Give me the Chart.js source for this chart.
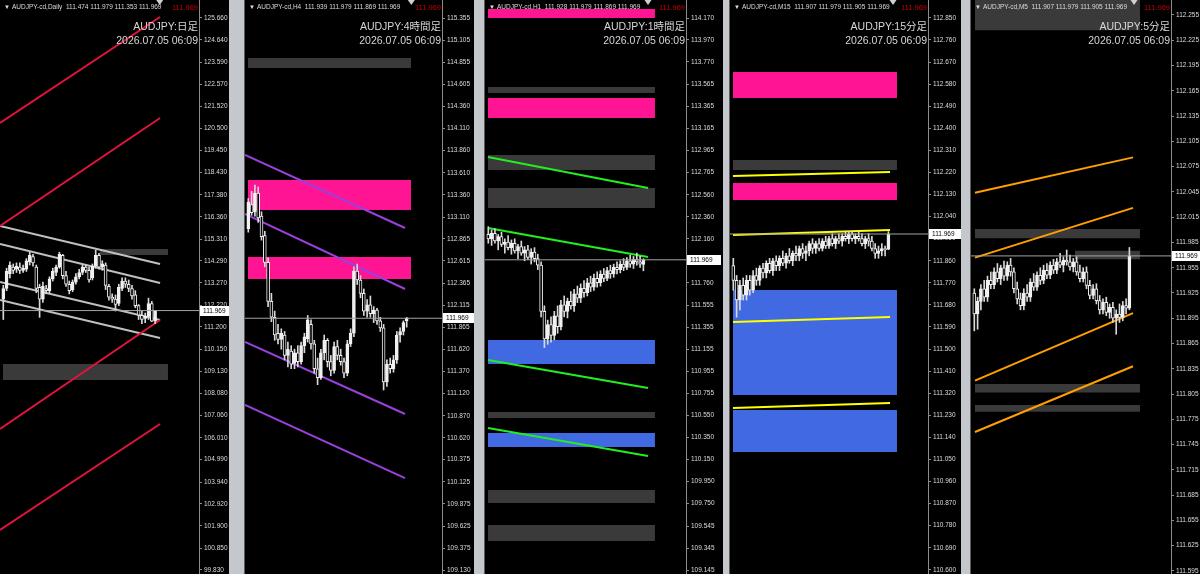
<!DOCTYPE html>
<html>
<head>
<meta charset="utf-8">
<script src="https://cdn.jsdelivr.net/npm/chart.js@4.4.1/dist/chart.umd.min.js"></script>
<style>
  html, body { margin: 0; padding: 0; width: 1200px; height: 574px; overflow: hidden; background: #c4c7cb; }
  .pane { position: absolute; top: 0; height: 574px; background: #000; box-shadow: -1px 0 0 #5c5c5c; }
  .pane canvas { display: block; }
</style>
</head>
<body>
<script>
const stamp = '2026.07.05 06:09';
const bid = 111.969;

// ---- Daily ----
const dailyTicks = [125.660, 124.640, 123.590, 122.570, 121.520, 120.500, 119.450, 118.430, 117.380, 116.360, 115.310, 114.290, 113.270,
  112.220, 111.200, 110.150, 109.130, 108.080, 107.060, 106.010, 104.990, 103.940, 102.920, 101.900, 100.850, 99.830];
// [open, high, low, close]
const dailyCandles = [
  [112.50,113.15,111.55,113.00],[113.00,113.95,112.90,113.80],[113.70,114.25,113.50,114.10],[114.00,114.15,113.70,113.85],
  [113.90,114.20,113.75,114.05],[114.00,114.20,113.70,113.85],[113.85,114.10,113.75,113.95],[113.90,114.40,113.80,114.30],
  [114.25,114.70,114.10,114.55],[114.50,114.60,114.05,114.20],[114.00,114.10,112.80,113.00],[113.05,113.20,111.65,112.50],
  [112.50,113.30,112.35,113.10],[113.00,113.15,112.75,112.90],[112.90,113.55,112.80,113.45],[113.45,113.95,113.35,113.80],
  [113.75,114.10,113.60,114.00],[114.00,114.70,113.95,114.60],[114.55,114.60,113.45,113.60],[113.60,113.80,113.10,113.20],
  [113.20,113.35,112.75,112.90],[112.95,113.40,112.85,113.30],[113.30,113.70,113.20,113.55],[113.55,113.90,113.45,113.75],
  [113.75,114.10,113.65,114.00],[114.00,114.10,113.75,113.85],[113.85,114.00,113.30,113.40],[113.50,114.15,113.40,114.05],
  [114.05,114.80,113.95,114.55],[114.55,114.65,113.90,114.00],[114.00,114.30,113.85,114.15],[114.10,114.20,112.95,113.15],
  [113.10,113.20,112.45,112.60],[112.60,112.75,112.35,112.50],[112.50,112.70,111.95,112.25],[112.30,113.20,112.20,113.05],
  [113.00,113.50,112.90,113.35],[113.35,113.50,113.05,113.20],[113.20,113.40,112.85,113.00],[113.00,113.15,112.50,112.65],
  [112.70,112.90,112.10,112.20],[112.20,112.25,111.55,111.75],[111.75,111.95,111.35,111.55],[111.60,111.85,111.40,111.70],
  [111.70,112.55,111.55,112.30],[112.30,112.40,111.45,111.47],[111.474,111.979,111.353,111.969]
];
// [x0, y0, x1, y1]
const dailyRed = [[-1,120.746,47.5,125.707],[-1,115.926,47.5,120.980],[-1,106.427,47.5,111.528],[-1,101.700,47.5,106.661]];
const dailySilver = [[-1,115.926,47.5,114.148],[-1,115.084,47.5,113.259],[-1,113.306,47.5,111.528],[-1,112.464,47.5,110.685]];
// [x0, x1, top, bottom, kind]
const dailyZones = [[29.3,49.9,114.85,114.57,'box'],[-0.1,49.9,109.47,108.72,'box']];

// ---- H4 ----
const h4Ticks = [115.355, 115.105, 114.855, 114.605, 114.360, 114.110, 113.860, 113.610, 113.360, 113.110, 112.865, 112.615, 112.365,
  112.115, 111.865, 111.620, 111.370, 111.120, 110.870, 110.620, 110.375, 110.125, 109.875, 109.625, 109.375, 109.130];
const h4Candles = [
  [112.98,113.32,112.94,113.28],[113.25,113.40,113.13,113.16],[113.17,113.47,113.12,113.38],[113.38,113.45,113.05,113.10],
  [113.12,113.17,112.85,112.89],[112.90,112.95,112.55,112.60],[112.60,112.65,112.10,112.16],[112.16,112.25,111.93,111.98],
  [111.98,112.05,111.72,111.78],[111.80,111.90,111.68,111.73],[111.73,111.85,111.62,111.80],[111.78,111.82,111.50,111.55],
  [111.55,111.70,111.42,111.62],[111.60,111.66,111.40,111.45],[111.46,111.62,111.40,111.58],[111.58,111.66,111.42,111.48],
  [111.48,111.70,111.45,111.66],[111.66,111.80,111.58,111.76],[111.74,112.00,111.70,111.95],[111.90,111.95,111.62,111.68],
  [111.68,111.72,111.35,111.40],[111.40,111.52,111.22,111.30],[111.30,111.62,111.28,111.58],[111.58,111.78,111.50,111.72],
  [111.72,111.74,111.42,111.48],[111.48,111.55,111.32,111.38],[111.38,111.70,111.35,111.65],[111.65,111.72,111.50,111.55],
  [111.55,111.62,111.44,111.48],[111.48,111.52,111.30,111.35],[111.35,111.72,111.32,111.68],[111.68,111.85,111.65,111.80],
  [111.80,112.55,111.76,112.50],[112.50,112.58,112.35,112.40],[112.40,112.45,112.20,112.25],[112.25,112.30,112.00,112.05],
  [112.05,112.18,111.98,112.12],[112.12,112.22,111.98,112.02],[112.02,112.10,111.92,112.06],[112.06,112.08,111.90,111.94],
  [111.94,111.98,111.82,111.86],[111.86,111.90,111.16,111.25],[111.25,111.50,111.20,111.45],[111.45,111.52,111.35,111.40],
  [111.40,111.55,111.36,111.50],[111.50,111.82,111.46,111.78],[111.78,111.86,111.70,111.82],[111.82,111.94,111.78,111.92],
  [111.939,111.979,111.869,111.969]
];
const h4Purple = [[-1,113.810,47.5,112.987],[-1,113.145,47.5,112.299],[-1,111.701,47.5,110.889],[-1,110.991,47.5,110.167]];
const h4Zones = [[-0.1,49.3,114.904,114.791,'box'],[-0.1,49.3,113.528,113.190,'supply'],[-0.1,49.3,112.660,112.412,'supply']];

// ---- H1 ----
const h1Ticks = [114.170, 113.970, 113.770, 113.565, 113.365, 113.165, 112.965, 112.765, 112.560, 112.360, 112.160, 111.960, 111.760,
  111.555, 111.355, 111.155, 110.955, 110.755, 110.550, 110.350, 110.150, 109.950, 109.750, 109.545, 109.345, 109.145];
const h1Candles = [
  [112.20,112.27,112.12,112.16],[112.16,112.24,112.10,112.21],[112.21,112.25,112.12,112.14],[112.14,112.20,112.06,112.18],
  [112.18,112.22,112.09,112.11],[112.11,112.16,112.03,112.13],[112.13,112.19,112.06,112.08],[112.08,112.15,112.02,112.12],
  [112.12,112.16,112.03,112.05],[112.05,112.11,111.98,112.09],[112.09,112.14,112.01,112.03],[112.03,112.09,111.96,112.06],
  [112.06,112.10,111.97,111.99],[111.99,112.07,111.93,112.04],[112.04,112.08,111.95,111.98],[111.98,112.02,111.88,111.92],
  [111.92,111.95,111.45,111.50],[111.50,111.55,111.17,111.25],[111.25,111.42,111.20,111.38],[111.38,111.45,111.22,111.28],
  [111.28,111.50,111.24,111.46],[111.46,111.55,111.30,111.36],[111.36,111.60,111.33,111.56],[111.56,111.64,111.45,111.50],
  [111.50,111.62,111.44,111.59],[111.59,111.68,111.52,111.55],[111.55,111.70,111.50,111.66],[111.66,111.73,111.58,111.62],
  [111.62,111.75,111.58,111.71],[111.71,111.78,111.63,111.67],[111.67,111.80,111.64,111.76],[111.76,111.82,111.68,111.72],
  [111.72,111.84,111.69,111.80],[111.80,111.86,111.72,111.76],[111.76,111.87,111.73,111.84],[111.84,111.89,111.77,111.80],
  [111.80,111.90,111.78,111.87],[111.87,111.92,111.80,111.84],[111.84,111.93,111.81,111.90],[111.90,111.95,111.84,111.88],
  [111.88,111.96,111.85,111.93],[111.93,111.98,111.87,111.90],[111.90,111.99,111.88,111.96],[111.96,112.01,111.90,111.93],
  [111.93,112.00,111.89,111.97],[111.97,112.03,111.92,111.95],[111.95,112.00,111.90,111.93],[111.928,111.979,111.869,111.969]
];
const h1Green = [[-0.1,112.905,48.4,112.623],[-0.1,112.258,48.4,111.994],[-0.1,111.057,48.4,110.802],[-0.1,110.438,48.4,110.183]];
const h1Zones = [
  [-0.1,50.5,114.252,114.170,'supply'],[-0.1,50.5,113.542,113.487,'box'],[-0.1,50.5,113.442,113.260,'supply'],
  [-0.1,50.5,112.923,112.786,'box'],[-0.1,50.5,112.623,112.441,'box'],[-0.1,50.5,111.239,111.020,'demand'],
  [-0.1,50.5,110.583,110.529,'box'],[-0.1,50.5,110.392,110.265,'demand'],[-0.1,50.5,109.873,109.755,'box'],
  [-0.1,50.5,109.555,109.409,'box']
];

// ---- M15 ----
const m15Ticks = [112.850, 112.760, 112.670, 112.580, 112.490, 112.400, 112.310, 112.220, 112.130, 112.040, 111.950, 111.860, 111.770,
  111.680, 111.590, 111.500, 111.410, 111.320, 111.230, 111.140, 111.050, 110.960, 110.870, 110.780, 110.690, 110.600];
const m15Candles = [
  [111.84,111.87,111.74,111.78],[111.78,111.80,111.63,111.70],[111.70,111.78,111.66,111.76],[111.76,111.79,111.70,111.72],
  [111.72,111.80,111.70,111.78],[111.78,111.80,111.72,111.74],[111.74,111.82,111.73,111.80],[111.80,111.83,111.76,111.78],
  [111.78,111.84,111.76,111.83],[111.83,111.85,111.79,111.81],[111.81,111.86,111.79,111.85],[111.85,111.87,111.81,111.82],
  [111.82,111.87,111.80,111.86],[111.86,111.88,111.82,111.84],[111.84,111.88,111.82,111.87],[111.87,111.90,111.84,111.85],
  [111.85,111.89,111.83,111.88],[111.88,111.91,111.85,111.86],[111.86,111.90,111.84,111.89],[111.89,111.92,111.86,111.88],
  [111.88,111.92,111.86,111.91],[111.91,111.93,111.87,111.89],[111.89,111.92,111.86,111.90],[111.90,111.94,111.88,111.93],
  [111.93,111.95,111.89,111.91],[111.91,111.94,111.89,111.93],[111.93,111.95,111.90,111.91],[111.91,111.95,111.90,111.94],
  [111.94,111.96,111.91,111.92],[111.92,111.96,111.91,111.95],[111.95,111.97,111.92,111.93],[111.93,111.96,111.91,111.95],
  [111.95,111.97,111.93,111.94],[111.94,111.97,111.92,111.96],[111.96,111.98,111.94,111.95],[111.95,111.98,111.93,111.97],
  [111.97,111.98,111.94,111.95],[111.95,111.97,111.93,111.96],[111.96,111.98,111.94,111.95],[111.95,111.97,111.92,111.93],
  [111.93,111.96,111.91,111.95],[111.95,111.97,111.92,111.94],[111.94,111.96,111.90,111.91],[111.91,111.93,111.87,111.89],
  [111.89,111.92,111.87,111.90],[111.90,111.93,111.88,111.91],[111.91,111.92,111.88,111.905],[111.907,111.979,111.905,111.969]
];
const m15Yellow = [[-0.1,112.206,47.5,112.222],[-0.1,111.965,47.5,111.985],[-0.1,111.610,47.5,111.631],[-0.1,111.260,47.5,111.280]];
const m15Zones = [
  [-0.1,49.6,112.629,112.523,'supply'],[-0.1,49.6,112.271,112.230,'box'],[-0.1,49.6,112.177,112.108,'supply'],
  [-0.1,49.6,111.741,111.313,'demand'],[-0.1,49.6,111.252,111.080,'demand']
];

// ---- M5 ----
const m5Ticks = [112.255, 112.225, 112.195, 112.165, 112.135, 112.105, 112.075, 112.045, 112.015, 111.985, 111.955, 111.925,
  111.895, 111.865, 111.835, 111.805, 111.775, 111.745, 111.715, 111.685, 111.655, 111.625, 111.595];
const m5Candles = [
  [111.925,111.930,111.880,111.900],[111.900,111.920,111.882,111.915],[111.915,111.935,111.905,111.930],[111.930,111.940,111.915,111.920],
  [111.920,111.945,111.915,111.940],[111.940,111.950,111.930,111.935],[111.935,111.955,111.930,111.950],[111.950,111.960,111.938,111.942],
  [111.942,111.958,111.935,111.955],[111.955,111.963,111.940,111.945],[111.945,111.962,111.940,111.958],[111.958,111.966,111.945,111.950],
  [111.950,111.955,111.925,111.930],[111.930,111.938,111.912,111.918],[111.918,111.925,111.905,111.910],[111.910,111.930,111.905,111.925],
  [111.925,111.935,111.915,111.920],[111.920,111.942,111.915,111.938],[111.938,111.948,111.928,111.932],[111.932,111.950,111.928,111.946],
  [111.946,111.955,111.935,111.940],[111.940,111.958,111.936,111.952],[111.952,111.960,111.942,111.946],[111.946,111.962,111.942,111.958],
  [111.958,111.965,111.948,111.952],[111.952,111.966,111.948,111.962],[111.962,111.972,111.955,111.958],[111.958,111.968,111.950,111.964],
  [111.964,111.976,111.958,111.962],[111.962,111.970,111.952,111.956],[111.956,111.966,111.950,111.962],[111.962,111.968,111.946,111.950],
  [111.950,111.958,111.938,111.942],[111.942,111.955,111.938,111.950],[111.950,111.956,111.930,111.934],[111.934,111.940,111.918,111.922],
  [111.922,111.935,111.918,111.930],[111.930,111.936,111.912,111.916],[111.916,111.922,111.900,111.905],[111.905,111.918,111.900,111.914],
  [111.914,111.920,111.898,111.902],[111.902,111.912,111.895,111.908],[111.908,111.914,111.890,111.895],[111.895,111.905,111.876,111.900],
  [111.900,111.912,111.890,111.896],[111.896,111.915,111.892,111.910],[111.910,111.918,111.900,111.907],[111.907,111.979,111.905,111.969]
];
const m5Orange = [[0.2,112.044,48.1,112.086],[0.2,111.967,48.1,112.026],[0.2,111.821,48.1,111.901],[0.2,111.760,48.1,111.838]];
const m5Zones = [
  [0.2,50.2,112.2728,112.237,'box'],[0.2,50.2,112.001,111.990,'box'],[30.5,50.2,111.975,111.965,'box'],
  [0.2,50.2,111.817,111.807,'box'],[0.2,50.2,111.792,111.784,'box']
];

const zoneColors = { box: '#3a3a3a', supply: '#ff1493', demand: '#4169e1' };
const barStep = 3.3; // px per bar

const panes = [
  { name: 'AUDJPY-cd,Daily', title: 'AUDJPY:日足', left: 0, plotW: 199, axisW: 30, min: 99.64, max: 126.502,
    ticks: dailyTicks, candles: dailyCandles, zones: dailyZones,
    lines: [{ pts: dailyRed, color: '#e0143c' }, { pts: dailySilver, color: '#c0c0c0' }] },
  { name: 'AUDJPY-cd,H4', title: 'AUDJPY:4時間足', left: 245, plotW: 197, axisW: 32, min: 109.085, max: 115.558,
    ticks: h4Ticks, candles: h4Candles, zones: h4Zones,
    lines: [{ pts: h4Purple, color: '#9a40dc' }] },
  { name: 'AUDJPY-cd,H1', title: 'AUDJPY:1時間足', left: 485, plotW: 201, axisW: 37, min: 109.109, max: 114.334,
    ticks: h1Ticks, candles: h1Candles, zones: h1Zones,
    lines: [{ pts: h1Green, color: '#22ee22' }] },
  { name: 'AUDJPY-cd,M15', title: 'AUDJPY:15分足', left: 730, plotW: 198, axisW: 33, min: 110.583, max: 112.923,
    ticks: m15Ticks, candles: m15Candles, zones: m15Zones,
    lines: [{ pts: m15Yellow, color: '#ffff00' }] },
  { name: 'AUDJPY-cd,M5', title: 'AUDJPY:5分足', left: 971, plotW: 200, axisW: 29, min: 111.5914, max: 112.2728,
    ticks: m5Ticks, candles: m5Candles, zones: m5Zones,
    lines: [{ pts: m5Orange, color: '#ffa000' }] }
];

const small = '"Liberation Sans", Arial, sans-serif';
const jp = '"Liberation Sans", "Noto Sans CJK JP", sans-serif';

// header texts, bid box and the shift marker
function decor(p) {
  return {
    id: 'decor',
    afterDraw(chart) {
      const { ctx, chartArea: a, scales: { x, y } } = chart;
      const last = p.candles[p.candles.length - 1];
      ctx.save();
      ctx.textBaseline = 'middle';

      const py = Math.round(y.getPixelForValue(bid));
      ctx.fillStyle = '#fff';
      ctx.fillRect(a.right + 1, py - 5, 34, 10);
      ctx.fillStyle = '#000';
      ctx.font = '6.5px ' + small;
      ctx.textAlign = 'left';
      ctx.fillText(bid.toFixed(3), a.right + 4, py + 0.5);

      ctx.fillStyle = '#dcdcdc';
      ctx.font = '6px ' + small;
      ctx.fillText('▼', a.left + 4, 7);
      ctx.font = '6.5px ' + small;
      ctx.fillText(p.name + '  ' + last.map(v => v.toFixed(3)).join(' '), a.left + 12, 7.5);

      ctx.fillStyle = '#c40000';
      ctx.font = '7.5px ' + small;
      ctx.textAlign = 'right';
      ctx.fillText(bid.toFixed(3), a.right - 1, 7.5);

      ctx.fillStyle = '#d6d6d6';
      ctx.font = '10.5px ' + jp;
      ctx.fillText(p.title, a.right - 1, 27);
      ctx.fillText(stamp, a.right - 1, 41);

      const mx = x.getPixelForValue(p.candles.length + 0.4);
      ctx.fillStyle = '#cfcfcf';
      ctx.beginPath();
      ctx.moveTo(mx - 3.5, 0); ctx.lineTo(mx + 3.5, 0); ctx.lineTo(mx, 5);
      ctx.closePath();
      ctx.fill();
      ctx.restore();
    }
  };
}

panes.forEach(p => {
  const div = document.createElement('div');
  div.className = 'pane';
  div.style.left = p.left + 'px';
  div.style.width = (p.plotW + p.axisW) + 'px';
  const cv = document.createElement('canvas');
  cv.width = p.plotW + p.axisW;
  cv.height = 574;
  div.appendChild(cv);
  document.body.appendChild(div);

  const xMin = -1, xMax = -1 + p.plotW / barStep;
  const datasets = [];

  datasets.push({ type: 'line', data: [{ x: xMin, y: bid }, { x: xMax, y: bid }], borderColor: '#a4a4a4',
    borderWidth: 1, pointRadius: 0, order: 0 });

  datasets.push({ type: 'bar', data: p.candles.map((c, i) => ({ x: i, y: [c[0], c[3]] })), order: 1,
    grouped: false, barThickness: 3, minBarLength: 1, borderSkipped: false, borderWidth: 1, borderColor: '#f0f0f0',
    backgroundColor: p.candles.map(c => c[3] >= c[0] ? '#f0f0f0' : '#000') });

  datasets.push({ type: 'bar', data: p.candles.map((c, i) => ({ x: i, y: [c[2], c[1]] })), order: 2,
    grouped: false, barThickness: 1, backgroundColor: '#d8d8d8' });

  p.lines.forEach(l => l.pts.forEach(s => {
    datasets.push({ type: 'line', data: [{ x: s[0], y: s[1] }, { x: s[2], y: s[3] }], borderColor: l.color,
      borderWidth: 2, pointRadius: 0, order: 3 });
  }));

  p.zones.forEach(z => {
    datasets.push({ type: 'line', data: [{ x: z[0], y: z[2] }, { x: z[1], y: z[2] }], borderColor: 'transparent',
      borderWidth: 0, pointRadius: 0, backgroundColor: zoneColors[z[4]], fill: { value: z[3] }, order: 4 });
  });

  new Chart(cv, {
    type: 'bar',
    data: { datasets },
    options: {
      responsive: false,
      animation: false,
      events: [],
      layout: { padding: 0 },
      plugins: { legend: { display: false }, tooltip: { enabled: false } },
      scales: {
        x: { type: 'linear', display: false, offset: false, min: xMin, max: xMax },
        y: {
          position: 'right', min: p.min, max: p.max,
          afterBuildTicks: s => { s.ticks = p.ticks.map(v => ({ value: v })); },
          afterFit: s => { s.width = p.axisW; s.paddingTop = 0; s.paddingBottom = 0; },
          ticks: { color: '#dcdcdc', font: { size: 6.5, family: small }, padding: 2, autoSkip: false,
            callback: v => Number(v).toFixed(3) },
          grid: { drawOnChartArea: false, tickLength: 3, color: '#8c8c8c' },
          border: { color: '#8c8c8c' }
        }
      }
    },
    plugins: [decor(p)]
  });
});
</script>
</body>
</html>
